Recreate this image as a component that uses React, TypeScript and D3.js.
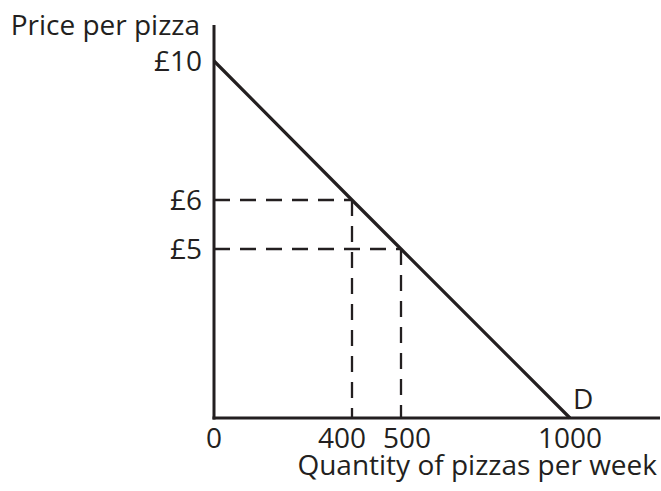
import React from "react";
import * as d3 from "d3";

// demand curve points (quantity per week, price in £)
const demandQty = [0, 400, 500, 1000];
const demandPrice = [10, 6, 5, 0];

// points picked out with dashed guides
const markQty = [400, 500];
const markPrice = [6, 5];

const xTicks = [0, 400, 500, 1000];
const xTickLabels = ["0", "400", "500", "1000"];
const yTicks = [10, 6, 5];
const yTickLabels = ["£10", "£6", "£5"];

const width = 661;
const height = 491;
const ink = "#231f20";
const font = "'Open Sans', sans-serif";

const App = () => {
  // schematic diagram: the 400-500 band is drawn wider, as in the textbook figure
  const x = d3.scaleLinear().domain([0, 400, 500, 1000]).range([214, 352, 401, 570]);
  const y = d3.scaleLinear().domain([0, 5, 6, 10]).range([418, 249, 200, 61]);

  const line = d3
    .line<number>()
    .x((i) => x(demandQty[i]))
    .y((i) => y(demandPrice[i]));

  const x0 = x(0);
  const y0 = y(0);

  // nudge the close 400 / 500 labels apart
  const labelShift = (i: number) => (i === 1 ? -10 : i === 2 ? 6 : 0);

  return (
    <svg
      width={width}
      height={height}
      style={{ position: "absolute", left: 0, top: 0, background: "#fff" }}
    >
      {markQty.map((q, i) => (
        <g key={q} stroke={ink} strokeWidth={2.3} strokeDasharray="16,10" fill="none">
          <line x1={x0} y1={y(markPrice[i])} x2={x(q)} y2={y(markPrice[i])} />
          <line x1={x(q)} y1={y(markPrice[i])} x2={x(q)} y2={y0} />
        </g>
      ))}

      <line x1={x0} y1={25} x2={x0} y2={y0 + 1.5} stroke={ink} strokeWidth={3} />
      <line x1={x0 - 1.5} y1={y0} x2={660} y2={y0} stroke={ink} strokeWidth={3} />

      <path d={line(demandQty.map((_, i) => i)) || ""} stroke={ink} strokeWidth={3.2} fill="none" />

      <g fontFamily={font} fontSize={28} fill={ink}>
        {yTicks.map((t, i) => (
          <text key={t} x={x0 - 12} y={y(t)} dy="0.36em" textAnchor="end">
            {yTickLabels[i]}
          </text>
        ))}
        {xTicks.map((t, i) => (
          <text key={t} x={x(t) + labelShift(i)} y={448} textAnchor="middle">
            {xTickLabels[i]}
          </text>
        ))}
        <text x={200} y={35} textAnchor="end">
          Price per pizza
        </text>
        <text x={657} y={475} textAnchor="end">
          Quantity of pizzas per week
        </text>
        <text x={573} y={409}>
          D
        </text>
      </g>
    </svg>
  );
};

export default App;
